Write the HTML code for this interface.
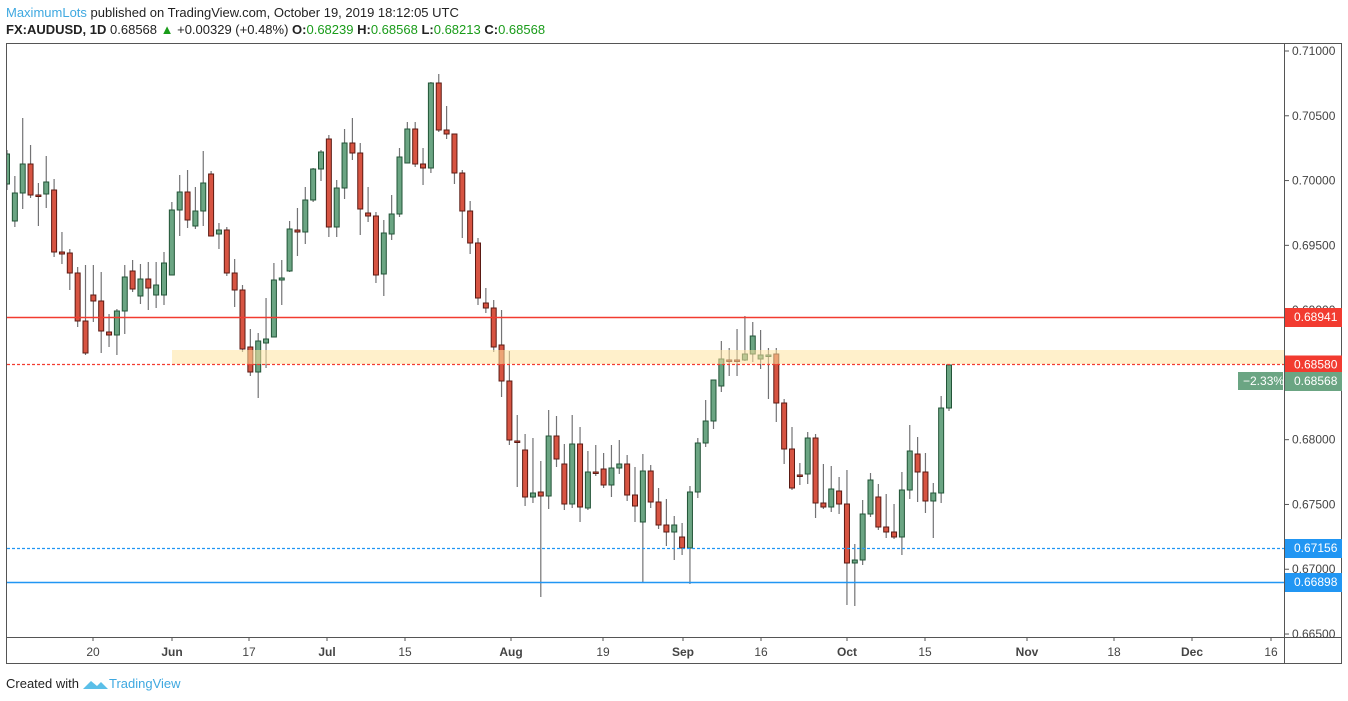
<!DOCTYPE html>
<html><head><meta charset="utf-8"><style>
html,body{margin:0;padding:0;background:#fff;width:1348px;height:701px;overflow:hidden;font-family:"Liberation Sans",sans-serif}
svg{position:absolute;left:0;top:0}
</style></head><body>
<svg id="s" width="1348" height="701" xmlns="http://www.w3.org/2000/svg" font-family="Liberation Sans, sans-serif">
<text x="6" y="17" font-size="13"><tspan fill="#3ea8e0">MaximumLots</tspan><tspan fill="#222"> published on TradingView.com, October 19, 2019 18:12:05 UTC</tspan></text>
<text x="6" y="34" font-size="13" fill="#222"><tspan font-weight="bold">FX:AUDUSD, 1D</tspan> 0.68568 <tspan fill="#1a9c1a">▲</tspan> +0.00329 (+0.48%) <tspan font-weight="bold">O:</tspan><tspan fill="#1a9c1a">0.68239</tspan> <tspan font-weight="bold">H:</tspan><tspan fill="#1a9c1a">0.68568</tspan> <tspan font-weight="bold">L:</tspan><tspan fill="#1a9c1a">0.68213</tspan> <tspan font-weight="bold">C:</tspan><tspan fill="#1a9c1a">0.68568</tspan></text>
<rect x="6.5" y="43.5" width="1335" height="620" fill="none" stroke="#555"/>
<line x1="1284.5" y1="43" x2="1284.5" y2="664" stroke="#555"/>
<line x1="6" y1="637.5" x2="1342" y2="637.5" stroke="#555"/>
<defs><clipPath id="c"><rect x="7" y="44" width="1277" height="593"/></clipPath></defs>
<g id="cand" clip-path="url(#c)"></g>
<g id="ax"></g>
<text x="6" y="688" font-size="13" fill="#222">Created with</text>
<path d="M83 689 l8 -8 l6 5 l4 -4 l7 7 z" fill="#5bbfe8"/>
<text x="109" y="688" font-size="13" fill="#3ea8e0">TradingView</text>
</svg>
<script>
const NS="http://www.w3.org/2000/svg";
function el(t,a,p,txt){const e=document.createElementNS(NS,t);for(const k in a)e.setAttribute(k,a[k]);if(txt!==undefined)e.textContent=txt;p.appendChild(e);return e;}
// [open, close, high, low] in pixel y
const D=[
[184,154,150,190],[221,193,176,227],[193,164,118,209],[164,195,145,198],[195,195,183,226],[194,182,156,208],[190,252,179,257],[252,254,232,264],[253,273,249,290],[273,321,267,327],[321,353,265,355],[295,301,265,322],[301,331,272,353],[332,335,314,347],[335,311,309,355],[311,277,265,334],[271,289,260,292],[296,279,264,304],[279,288,262,310],[295,285,262,308],[295,263,252,305],[275,210,202,275],[210,192,175,236],[192,220,170,228],[226,211,187,229],[211,183,151,226],[174,236,171,236],[234,230,223,249],[230,273,227,276],[273,290,259,307],[290,349,285,352],[347,372,329,376],[372,341,333,398],[343,339,298,368],[337,280,263,337],[280,278,260,305],[271,229,221,272],[230,232,208,256],[232,200,187,244],[200,169,168,202],[169,152,150,181],[139,227,135,237],[227,188,180,237],[188,143,129,199],[143,153,118,160],[153,209,143,235],[213,216,187,222],[216,275,212,283],[274,233,220,296],[234,214,195,240],[214,157,148,217],[163,129,122,163],[129,164,122,167],[164,168,148,185],[168,83,82,173],[83,130,74,132],[130,134,106,139],[134,173,134,184],[173,211,170,238],[211,243,201,254],[243,298,238,305],[303,308,288,313],[308,347,300,352],[345,381,310,397],[381,440,351,445],[441,441,415,487],[450,497,434,506],[497,493,438,503],[492,496,461,597],[496,436,410,509],[436,459,416,467],[464,504,444,510],[504,444,415,508],[444,507,427,522],[508,472,451,510],[472,472,445,476],[469,485,453,488],[485,468,445,497],[468,464,440,474],[464,495,455,501],[495,506,467,522],[522,471,454,582],[471,502,465,508],[502,525,488,529],[525,532,499,546],[532,525,516,560],[537,548,523,555],[548,492,486,584],[492,443,438,498],[443,421,400,447],[421,380,380,429],[386,359,341,392],[360,360,348,376],[360,360,329,376],[360,354,316,361],[354,336,322,362],[359,355,330,369],[356,355,348,399],[354,403,348,422],[403,449,399,464],[449,488,427,490],[475,475,463,485],[474,438,432,484],[438,503,434,518],[503,507,464,509],[507,489,466,512],[491,504,477,514],[504,563,470,605],[563,560,544,606],[560,514,500,565],[514,480,473,517],[497,527,484,530],[527,532,494,538],[532,537,504,539],[537,490,472,555],[490,451,425,499],[454,472,437,502],[472,501,453,513],[501,493,483,538],[493,408,396,503],[408,365,365,411]];
const g=document.getElementById('cand');
D.forEach((d,i)=>{const x=7+i*7.85;const [o,c,h,l]=d;const up=c<o||(c==o&&(i==89+5||i==94));
el('line',{x1:x,x2:x,y1:h,y2:l,stroke:'#737375','stroke-width':1.2},g);
const t=Math.min(o,c),b=Math.max(o,c);
el('rect',{x:x-2.5,y:t,width:5,height:Math.max(b-t,1.5),fill:up?'#6ba583':'#d75442',stroke:up?'#225437':'#5b1a13','stroke-width':1},g);});
// zone and lines
el('rect',{x:172,y:350,width:1112,height:14,fill:'rgba(255,228,160,0.55)'},g);
el('line',{x1:7,x2:1284,y1:317.5,y2:317.5,stroke:'#f23b30','stroke-width':1.5},g);
el('line',{x1:7,x2:1284,y1:364.5,y2:364.5,stroke:'#f23b30','stroke-width':1.3,'stroke-dasharray':'3,2'},g);
el('line',{x1:7,x2:1284,y1:548.5,y2:548.5,stroke:'#2196f3','stroke-width':1.3,'stroke-dasharray':'3,2'},g);
el('line',{x1:7,x2:1284,y1:582.5,y2:582.5,stroke:'#2196f3','stroke-width':1.5},g);
const ax=document.getElementById('ax');
for(let k=0;k<=9;k++){const p=0.71-k*0.005;const y=51+k*64.78;
el('line',{x1:1285,x2:1289,y1:y,y2:y,stroke:'#555'},ax);
el('text',{x:1292,y:y+4,'font-size':12,fill:'#444'},ax,p.toFixed(5));}
function lab(y,txt,col){el('rect',{x:1285,y:y-9,width:57,height:19,fill:col},ax);el('text',{x:1294,y:y+4,'font-size':12,fill:'#fff'},ax,txt);}
lab(317,'0.68941','#f23b30');lab(364.5,'0.68580','#f23b30');lab(381,'0.68568','#6ba583');
el('rect',{x:1238,y:372,width:45,height:18,fill:'#6ba583'},ax);el('text',{x:1243,y:385,'font-size':12,fill:'#fff'},ax,'−2.33%');
lab(548,'0.67156','#2196f3');lab(582,'0.66898','#2196f3');
[[93,'20',0],[172,'Jun',1],[249,'17',0],[327,'Jul',1],[405,'15',0],[511,'Aug',1],[603,'19',0],[683,'Sep',1],[761,'16',0],[847,'Oct',1],[925,'15',0],[1027,'Nov',1],[1114,'18',0],[1192,'Dec',1],[1271,'16',0]].forEach(([x,t,b])=>{
el('line',{x1:x,x2:x,y1:637,y2:641,stroke:'#555'},ax);
el('text',{x:x,y:656,'font-size':12,fill:'#444','text-anchor':'middle','font-weight':b?'bold':'normal'},ax,t);});
</script>
</body></html>
